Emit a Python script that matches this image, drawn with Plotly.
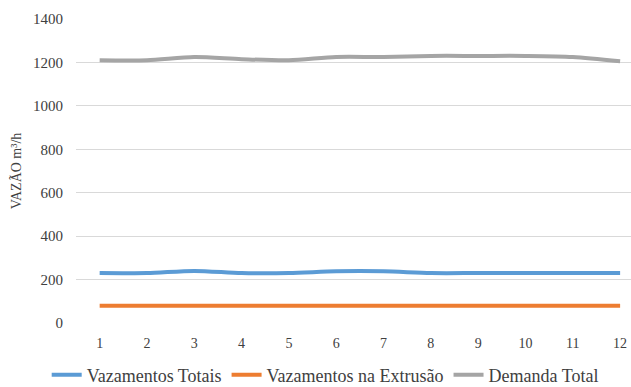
import plotly.graph_objects as go

# Monthly flow data (m³/h)
months = [1, 2, 3, 4, 5, 6, 7, 8, 9, 10, 11, 12]
vazamentos_totais = [230, 230, 240, 230, 230, 238, 238, 230, 230, 230, 230, 230]
vazamentos_extrusao = [80, 80, 80, 80, 80, 80, 80, 80, 80, 80, 80, 80]
demanda_total = [1210, 1210, 1225, 1215, 1210, 1225, 1225, 1230, 1230, 1230, 1225, 1205]

series = [
    ("Vazamentos Totais", vazamentos_totais, "#5B9BD5"),
    ("Vazamentos na Extrusão", vazamentos_extrusao, "#ED7D31"),
    ("Demanda Total", demanda_total, "#A5A5A5"),
]

fig = go.Figure()
for name, values, color in series:
    fig.add_trace(go.Scatter(
        x=months, y=values, name=name, mode="lines",
        line=dict(color=color, width=4, shape="spline", smoothing=0.8),
    ))

serif = "Liberation Serif"
ink = "#404040"
fig.update_layout(
    width=631, height=387,
    margin=dict(l=76, r=0, t=19, b=64, autoexpand=False),
    paper_bgcolor="white", plot_bgcolor="white",
    font=dict(family=serif, color=ink, size=14),
    showlegend=True,
    legend=dict(
        orientation="h", xref="container", yref="container",
        x=0.074, xanchor="left", y=0.031, yanchor="middle",
        font=dict(family=serif, size=18, color=ink),
        itemwidth=30, tracegroupgap=0, borderwidth=0,
    ),
    xaxis=dict(
        range=[0.5, 12.23], tickvals=months, ticktext=[str(m) for m in months],
        showgrid=False, zeroline=False, showline=False, ticks="",
        tickfont=dict(family=serif, size=14, color=ink),
        ticklabelstandoff=10,
        fixedrange=True,
    ),
    yaxis=dict(
        range=[0, 1400], dtick=200, showgrid=True, gridcolor="#D9D9D9",
        gridwidth=1, zeroline=False, showline=False, ticks="",
        tickfont=dict(family=serif, size=15, color=ink),
        ticklabelstandoff=12,
        title=dict(text="VAZÃO m³/h", font=dict(family=serif, size=14, color=ink), standoff=8),
    ),
)

fig.write_html("out.html")
